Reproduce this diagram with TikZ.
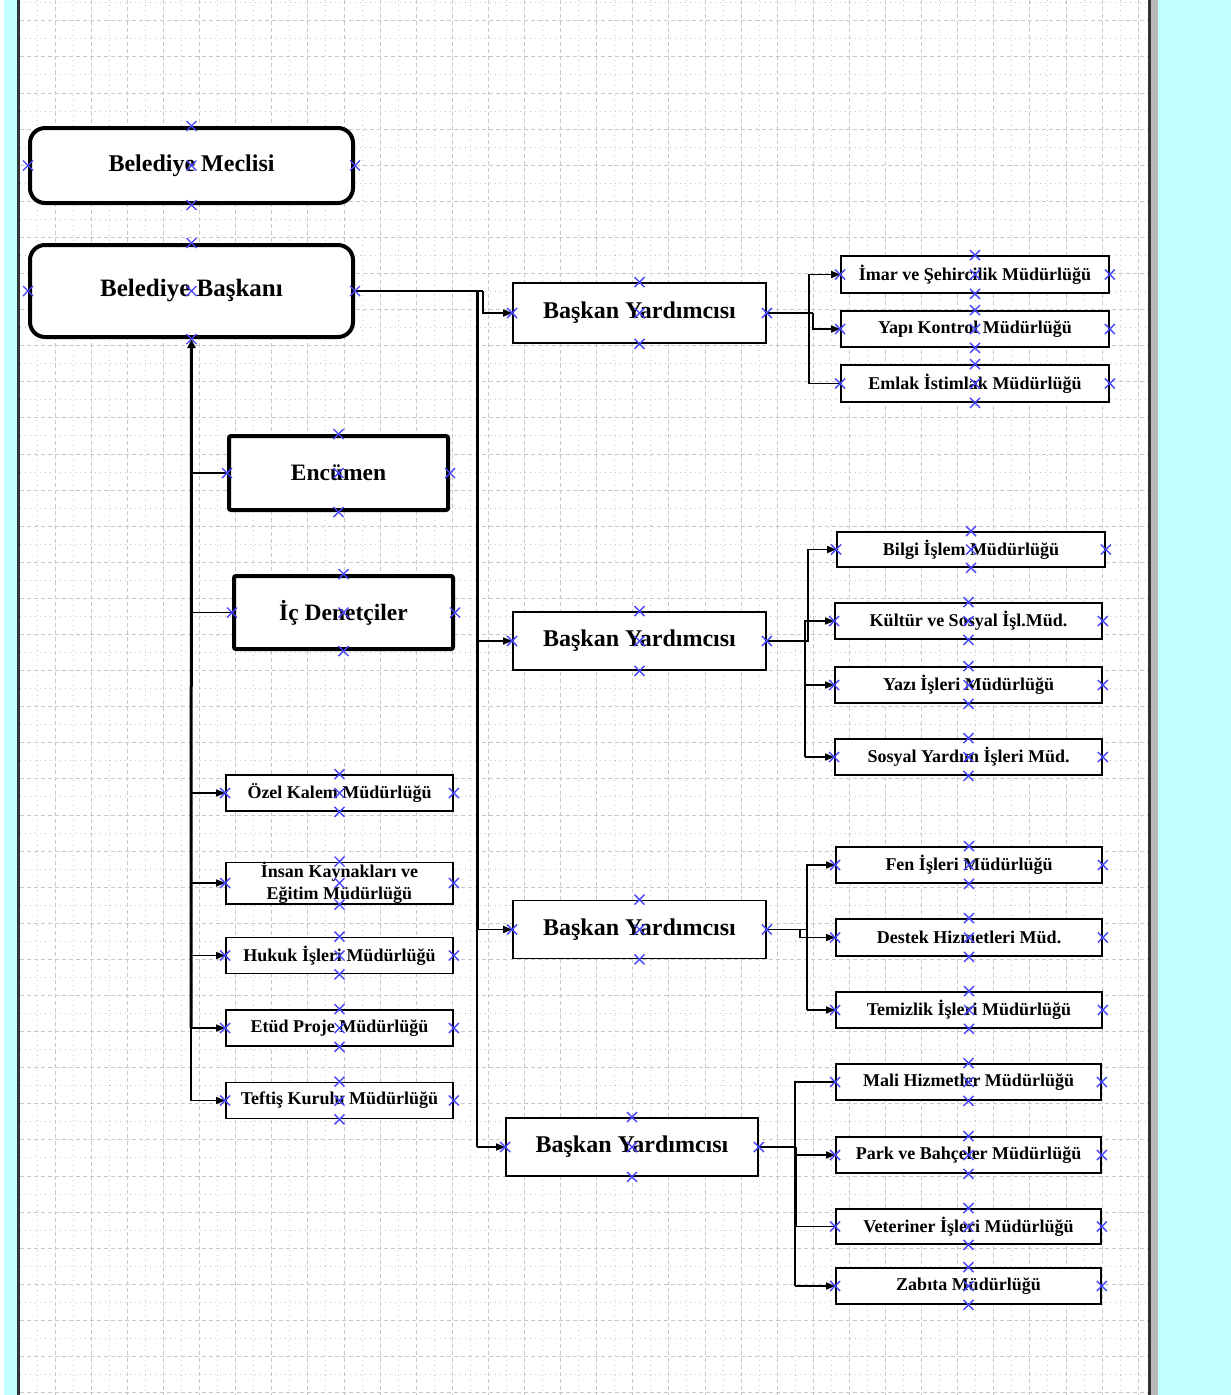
\documentclass[tikz,border=0pt]{standalone}
\usepackage{fontspec}
\setmainfont{Liberation Serif}
\usetikzlibrary{arrows.meta}
\definecolor{cyanbg}{RGB}{192,255,255}
\definecolor{mkblue}{RGB}{70,70,255}
\definecolor{gridc}{RGB}{200,200,200}
\tikzset{
  x=1pt, y=-1pt,
  bigbox/.style={draw, line width=4pt, rounded corners=15pt, fill=white, inner sep=0pt, align=center},
  heavybox/.style={draw, line width=4pt, rounded corners=2pt, fill=white, inner sep=0pt, align=center, font=\fontsize{23.5}{27}\selectfont\bfseries},
  yardbox/.style={draw, line width=1.6pt, fill=white, inner sep=0pt, minimum width=253pt, minimum height=59pt, font=\fontsize{24}{28}\selectfont\bfseries},
  smallbox/.style={draw, line width=1.6pt, fill=white, inner sep=0pt, minimum height=36pt, align=center, font=\fontsize{18}{22}\selectfont\bfseries},
  conn/.style={line width=1.3pt, black},
  thickconn/.style={line width=3pt, black},
  arr/.style={conn, -{Triangle[length=9pt,width=7pt]}},
  mkstyle/.style={mkblue, line width=1.4pt},
  gmajor/.style={gridc, line width=0.8pt, dash pattern=on 4pt off 3pt},
  gminor/.style={gridc, line width=0.8pt, dash pattern=on 1pt off 4pt},
}
\newcommand\xmk[1]{\foreach \a in {north,south,east,west,center}{\draw[mkstyle] (#1.\a) +(-5,-5) -- +(5,5) +(-5,5) -- +(5,-5);}}
\begin{document}
\begin{tikzpicture}
\useasboundingbox (0,0) rectangle (1231,1395);
% background
\fill[white] (0,0) rectangle (1231,1395);
\fill[cyanbg] (4,0) rectangle (17,1395);
\fill[cyanbg] (1158,0) rectangle (1231,1395);
\fill[gray!55] (1151,0) rectangle (1158,1395);
\fill[black!80] (1148,0) rectangle (1151,1395);
\fill[black!80] (17,0) rectangle (20,1395);
% grid
\begin{scope}
\clip (20,0) rectangle (1148,1395);
\foreach \i in {0,...,31}{
  \pgfmathsetmacro\gx{19+36.1*\i}
  \pgfmathsetmacro\hx{37.05+36.1*\i}
  \draw[gmajor] (\gx,0) -- (\gx,1395);
  \draw[gminor] (\hx,0) -- (\hx,1395);
}
\foreach \i in {0,...,38}{
  \pgfmathsetmacro\gy{20.7+36.1*\i}
  \pgfmathsetmacro\hy{2.65+36.1*\i}
  \draw[gmajor] (20,\gy) -- (1148,\gy);
  \draw[gminor] (20,\hy) -- (1148,\hy);
}
\end{scope}
% nodes
\node[bigbox, minimum width=323pt, minimum height=75pt, font=\fontsize{24}{28}\selectfont\bfseries] (mec) at (191.5,165.5) {Belediye Meclisi};
\node[bigbox, minimum width=323pt, minimum height=92pt, font=\fontsize{25}{29}\selectfont\bfseries] (bas) at (191.5,291) {Belediye Başkanı};
\node[heavybox, minimum width=219pt, minimum height=74pt] (enc) at (338.5,473) {Encümen};
\node[heavybox, minimum width=219pt, minimum height=73pt] (ic) at (343.5,612.5) {İç Denetçiler};
\node[smallbox, minimum width=227pt] (ozel) at (339.5,793) {Özel Kalem Müdürlüğü};
\node[smallbox, minimum width=227pt] (insan) at (339.5,883) {İnsan Kaynakları ve\\Eğitim Müdürlüğü};
\node[smallbox, minimum width=227pt] (hukuk) at (339.5,955.5) {Hukuk İşleri Müdürlüğü};
\node[smallbox, minimum width=227pt] (etud) at (339.5,1028) {Etüd Proje Müdürlüğü};
\node[smallbox, minimum width=227pt] (teftis) at (339.5,1100.5) {Teftiş Kurulu Müdürlüğü};

\node[yardbox, minimum height=60pt] (by1) at (639.5,313) {Başkan Yardımcısı};
\node[yardbox, minimum height=58pt] (by2) at (639.5,641) {Başkan Yardımcısı};
\node[yardbox, minimum height=58pt] (by3) at (639.5,929.5) {Başkan Yardımcısı};
\node[yardbox, minimum width=252pt, minimum height=58pt] (by4) at (632,1147) {Başkan Yardımcısı};

\node[smallbox, minimum width=268pt, minimum height=37pt] (imar) at (975,274.5) {İmar ve Şehircilik Müdürlüğü};
\node[smallbox, minimum width=268pt] (yapi) at (975,329) {Yapı Kontrol Müdürlüğü};
\node[smallbox, minimum width=268pt, minimum height=37pt] (emlak) at (975,383.5) {Emlak İstimlak Müdürlüğü};

\node[smallbox, minimum width=268pt, minimum height=35pt] (bilgi) at (971,549.5) {Bilgi İşlem Müdürlüğü};
\node[smallbox, minimum width=267pt] (kultur) at (968.5,621) {Kültür ve Sosyal İşl.Müd.};
\node[smallbox, minimum width=267pt] (yazi) at (968.5,685) {Yazı İşleri Müdürlüğü};
\node[smallbox, minimum width=267pt] (sosyal) at (968.5,757) {Sosyal Yardım İşleri Müd.};

\node[smallbox, minimum width=266pt] (fen) at (969,865) {Fen İşleri Müdürlüğü};
\node[smallbox, minimum width=266pt, minimum height=37pt] (destek) at (969,937.5) {Destek Hizmetleri Müd.};
\node[smallbox, minimum width=266pt] (temizlik) at (969,1010) {Temizlik İşleri Müdürlüğü};

\node[smallbox, minimum width=265pt] (mali) at (968.5,1082) {Mali Hizmetler Müdürlüğü};
\node[smallbox, minimum width=265pt] (park) at (968.5,1155) {Park ve Bahçeler Müdürlüğü};
\node[smallbox, minimum width=265pt, minimum height=35pt] (vet) at (968.5,1226.5) {Veteriner İşleri Müdürlüğü};
\node[smallbox, minimum width=265pt] (zab) at (968.5,1286) {Zabıta Müdürlüğü};

% helper coordinates
\coordinate (tL) at (191,0);
\coordinate (tLend) at (191,1028);
\coordinate (tR) at (477,291);
\coordinate (tRmid) at (477,929.5);
\coordinate (tRend) at (477,1147);
\coordinate (j1) at (483,291);
\coordinate (f1a) at (809,0);
\coordinate (f1b) at (813,0);
\coordinate (f2a) at (808,0);
\coordinate (f2b) at (805,0);
\coordinate (f3a) at (807,0);
\coordinate (f3b) at (800,0);
\coordinate (f4) at (795,0);

% left trunk
\draw[thickconn, -{Triangle[length=9pt,width=8pt]}] (tLend) -- (bas.south);
\draw[conn] (enc.west -| tL) -- (enc.west);
\draw[conn] (ic.west -| tL) -- (ic.west);
\draw[arr] (ozel.west -| tL) -- (ozel.west);
\draw[arr] (insan.west -| tL) -- (insan.west);
\draw[arr] (hukuk.west -| tL) -- (hukuk.west);
\draw[arr] (etud.west -| tL) -- (etud.west);
\draw[conn] (tLend) -- (teftis.west -| tL);
\draw[arr] (teftis.west -| tL) -- (teftis.west);

% right trunk
\draw[conn] (bas.east) -- (j1);
\draw[arr] (j1) |- (by1.west);
\draw[thickconn] (tR) -- (tRmid);
\draw[conn] (tRmid) -- (tRend);
\draw[arr] (by2.west -| tR) -- (by2.west);
\draw[arr] (by3.west -| tR) -- (by3.west);
\draw[arr] (tRend) -- (by4.west);

% group 1
\draw[conn] (by1.east) -- (by1.east -| f1b);
\draw[arr] (by1.east -| f1b) |- (yapi.west);
\draw[arr] (emlak.west) -- (emlak.west -| f1a) -- (imar.west -| f1a) -- (imar.west);

% group 2
\draw[arr] (by2.east) -- (by2.east -| f2a) -- (bilgi.west -| f2a) -- (bilgi.west);
\draw[arr] (sosyal.west -| f2b) -- (kultur.west -| f2b) -- (kultur.west);
\draw[arr] (yazi.west -| f2b) -- (yazi.west);
\draw[arr] (sosyal.west -| f2b) -- (sosyal.west);

% group 3
\draw[conn] (by3.east) -- (by3.east -| f3a);
\draw[arr] (temizlik.west -| f3a) -- (fen.west -| f3a) -- (fen.west);
\draw[arr] (temizlik.west -| f3a) -- (temizlik.west);
\draw[arr] (by3.east -| f3b) -- (destek.west -| f3b) -- (destek.west);

% group 4
\draw[conn] (by4.east) -- (by4.east -| f4);
\draw[conn] (zab.west -| f4) -- (mali.west -| f4) -- (mali.west);
\draw[thickconn] (by4.east -| f4) -- (vet.west -| f4);
\draw[arr] (park.west -| f4) -- (park.west);
\draw[conn] (vet.west -| f4) -- (vet.west);
\draw[arr] (zab.west -| f4) -- (zab.west);

% connection point markers
\foreach \n in {mec,bas,enc,ic,ozel,insan,hukuk,etud,teftis,by1,by2,by3,by4,imar,yapi,emlak,bilgi,kultur,yazi,sosyal,fen,destek,temizlik,mali,park,vet,zab}{\xmk{\n}}
\end{tikzpicture}
\end{document}
